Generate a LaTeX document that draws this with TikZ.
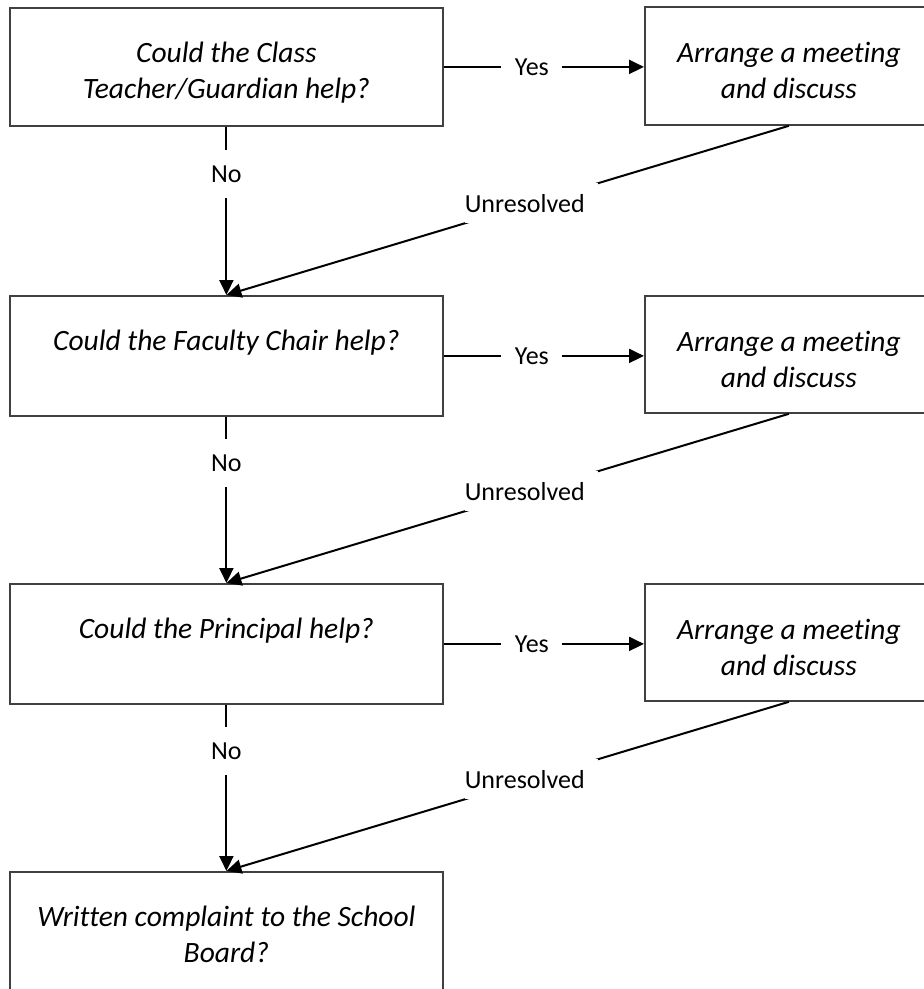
\documentclass[tikz,border=0pt]{standalone}
\usepackage{fontspec}
\setmainfont{Carlito}[Ligatures=NoCommon]
\usetikzlibrary{arrows.meta,calc}
\begin{document}
\begin{tikzpicture}[x=1pt,y=-1pt,
  box/.style={draw=black!75, line width=1.8pt, inner sep=0pt, anchor=north west},
  qtext/.style={font=\fontsize{29.5}{36}\selectfont\itshape, align=center, anchor=base, inner sep=0pt},
  lbl/.style={font=\fontsize{26}{30}\selectfont, fill=white, inner sep=0pt},
  conn/.style={line width=2pt, draw=black},
  arr/.style={conn, -{Triangle[length=15pt,width=14pt]}},
  yeslbl/.style={lbl, pos=0.44, minimum width=61pt, minimum height=30pt},
  nolbl/.style={lbl, pos=0.28, minimum width=40pt, minimum height=48pt},
  unlbl/.style={lbl, pos=0.458, text width=133pt, align=left, minimum height=40pt},
]
\useasboundingbox (0,0) rectangle (924,989);
\clip (0,0) rectangle (924,989);

% boxes
\node[box, minimum width=433pt, minimum height=118pt] (q1) at (9,7) {};
\node[box, minimum width=288pt, minimum height=118pt] (a1) at (644,6) {};
\node[box, minimum width=433pt, minimum height=120pt] (q2) at (9,295) {};
\node[box, minimum width=288pt, minimum height=117pt] (a2) at (644,295) {};
\node[box, minimum width=433pt, minimum height=120pt] (q3) at (9,583) {};
\node[box, minimum width=288pt, minimum height=117pt] (a3) at (644,583) {};
\node[box, minimum width=433pt, minimum height=140pt] (q4) at (9,871) {};

% texts (base = baseline of last line)
\node[qtext] (q1t) at ($(q1.north)+(0,91)$) {Could the Class\\Teacher/Guardian help?};
\node[qtext] (a1t) at ($(a1.north)+(0,92)$) {Arrange a meeting\\and discuss};
\node[qtext] (q2t) at ($(q2.north)+(0,55)$) {Could the Faculty Chair help?};
\node[qtext] (a2t) at ($(a2.north)+(0,92)$) {Arrange a meeting\\and discuss};
\node[qtext] (q3t) at ($(q3.north)+(0,55)$) {Could the Principal help?};
\node[qtext] (a3t) at ($(a3.north)+(0,92)$) {Arrange a meeting\\and discuss};
\node[qtext] (q4t) at ($(q4.north)+(0,91)$) {Written complaint to the School\\Board?};

% yes connectors
\draw[arr] (q1.east) -- node[yeslbl] (y1) {Yes} (q1.east -| a1.west);
\draw[arr] (q2.east) -- node[yeslbl] (y2) {Yes} (q2.east -| a2.west);
\draw[arr] (q3.east) -- node[yeslbl] (y3) {Yes} (q3.east -| a3.west);

% no connectors
\draw[arr] (q1.south) -- node[nolbl] (n1) {No} (q2.north);
\draw[arr] (q2.south) -- node[nolbl] (n2) {No} (q3.north);
\draw[arr] (q3.south) -- node[nolbl] (n3) {No} (q4.north);

% unresolved connectors
\draw[arr] (a1.south) -- node[unlbl] (u1) {Unresolved} (q2.north);
\draw[arr] (a2.south) -- node[unlbl] (u2) {Unresolved} (q3.north);
\draw[arr] (a3.south) -- node[unlbl] (u3) {Unresolved} (q4.north);
\end{tikzpicture}
\end{document}
